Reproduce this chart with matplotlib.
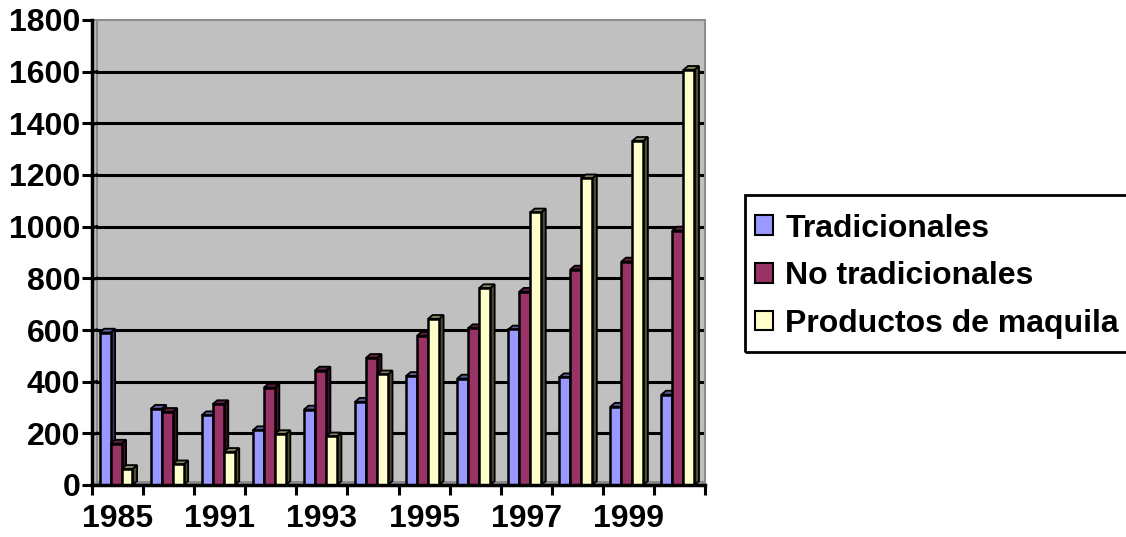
import matplotlib
matplotlib.use("Agg")
import matplotlib.pyplot as plt
from matplotlib.patches import Polygon, Rectangle, Patch
import numpy as np

years = ['1985', '1990', '1991', '1992', '1993', '1994', '1995', '1996', '1997', '1998', '1999', '2000']
tradicionales = [590, 295, 270, 212, 292, 322, 422, 412, 602, 417, 303, 350]
no_tradicionales = [160, 283, 313, 377, 443, 492, 578, 607, 748, 834, 865, 985]
maquila = [62, 80, 128, 197, 188, 428, 643, 762, 1055, 1187, 1332, 1607]
series_names = ['Tradicionales', 'No tradicionales', 'Productos de maquila']

face_colors = ['#9999FF', '#993366', '#FFFFCC']
side_colors = ['#3A3A66', '#3D0F26', '#4D4D33']
top_colors = ['#5C5C99', '#5C1F3D', '#80805C']

plt.rcParams['font.family'] = ['Liberation Sans', 'DejaVu Sans']
plt.rcParams['font.weight'] = 'bold'

fig = plt.figure(figsize=(11.26, 5.37), dpi=100)
ax = fig.add_axes([92/1126, 1-485/537, (705-92)/1126, (485-20)/537])
ax.set_xlim(0, 12)
ax.set_ylim(0, 1800)
ax.set_facecolor('#C0C0C0')

dx, dy = 0.09, 15.0
width = 0.215

# floor
ax.add_patch(Polygon([(0, 0), (12, 0), (12, dy), (dx, dy)], closed=True,
                     facecolor='#8C8C8C', edgecolor='none', zorder=1))

# gridlines
for v in range(200, 1800, 200):
    ax.plot([dx, 12], [v, v], color='black', lw=2.2, zorder=1.5)
    ax.plot([0, dx], [v - dy * 0.3, v], color='black', lw=2.2, zorder=1.5)
ax.plot([dx, dx], [dy, 1800], color='#8C8C8C', lw=1.5, zorder=1.4)

data = [tradicionales, no_tradicionales, maquila]
n = len(years)
z = 3
for i in range(n):
    center = i + 0.47
    for k in range(3):
        h = data[k][i]
        x0 = center + (k - 1.5) * width
        x1 = x0 + width
        ax.add_patch(Polygon([(x1, 0), (x1 + dx, dy), (x1 + dx, h + dy), (x1, h)],
                             closed=True, facecolor=side_colors[k], edgecolor='black',
                             lw=1.3, zorder=z))
        ax.add_patch(Polygon([(x0, h), (x0 + dx, h + dy), (x1 + dx, h + dy), (x1, h)],
                             closed=True, facecolor=top_colors[k], edgecolor='black',
                             lw=1.3, zorder=z))
        ax.add_patch(Rectangle((x0, 0), width, h, facecolor=face_colors[k],
                               edgecolor='black', lw=1.8, zorder=z + 0.5))
        z += 1

# spines
for s in ['top', 'right']:
    ax.spines[s].set_color('#8C8C8C')
    ax.spines[s].set_linewidth(1.5)
for s in ['left', 'bottom']:
    ax.spines[s].set_color('black')
    ax.spines[s].set_linewidth(2.5)
    ax.spines[s].set_zorder(100)

ax.set_yticks(range(0, 1801, 200))
ax.set_yticklabels([str(v) for v in range(0, 1801, 200)], fontsize=23, fontweight='bold')
ax.tick_params(axis='y', direction='out', length=7, width=2.2, pad=1.5)

ax.set_xticks(np.arange(0, 13, 1))
ax.set_xticklabels([])
ax.tick_params(axis='x', which='major', direction='out', length=7, width=2.2)
ax.set_xticks(np.arange(n) + 0.5, minor=True)
ax.set_xticklabels([y if i % 2 == 0 else '' for i, y in enumerate(years)], minor=True,
                   fontsize=23, fontweight='bold')
ax.tick_params(axis='x', which='minor', length=0, pad=14)

handles = [Patch(facecolor=c, edgecolor='black', lw=1.5) for c in face_colors]
leg = fig.legend(handles, series_names, loc='upper left',
                 bbox_to_anchor=(745/1126, 1-204/537), bbox_transform=fig.transFigure,
                 prop={'size': 23, 'weight': 'bold'}, frameon=False,
                 handlelength=0.58, handleheight=0.58, handletextpad=0.38,
                 labelspacing=0.55, borderpad=0.3, borderaxespad=0)

# legend frame
fig.patches.append(Rectangle((745/1126, 1-352/537), (1140-745)/1126, (352-195)/537,
                             transform=fig.transFigure, facecolor='none',
                             edgecolor='black', lw=2))

fig.savefig('out.png', dpi=100, facecolor='white')
